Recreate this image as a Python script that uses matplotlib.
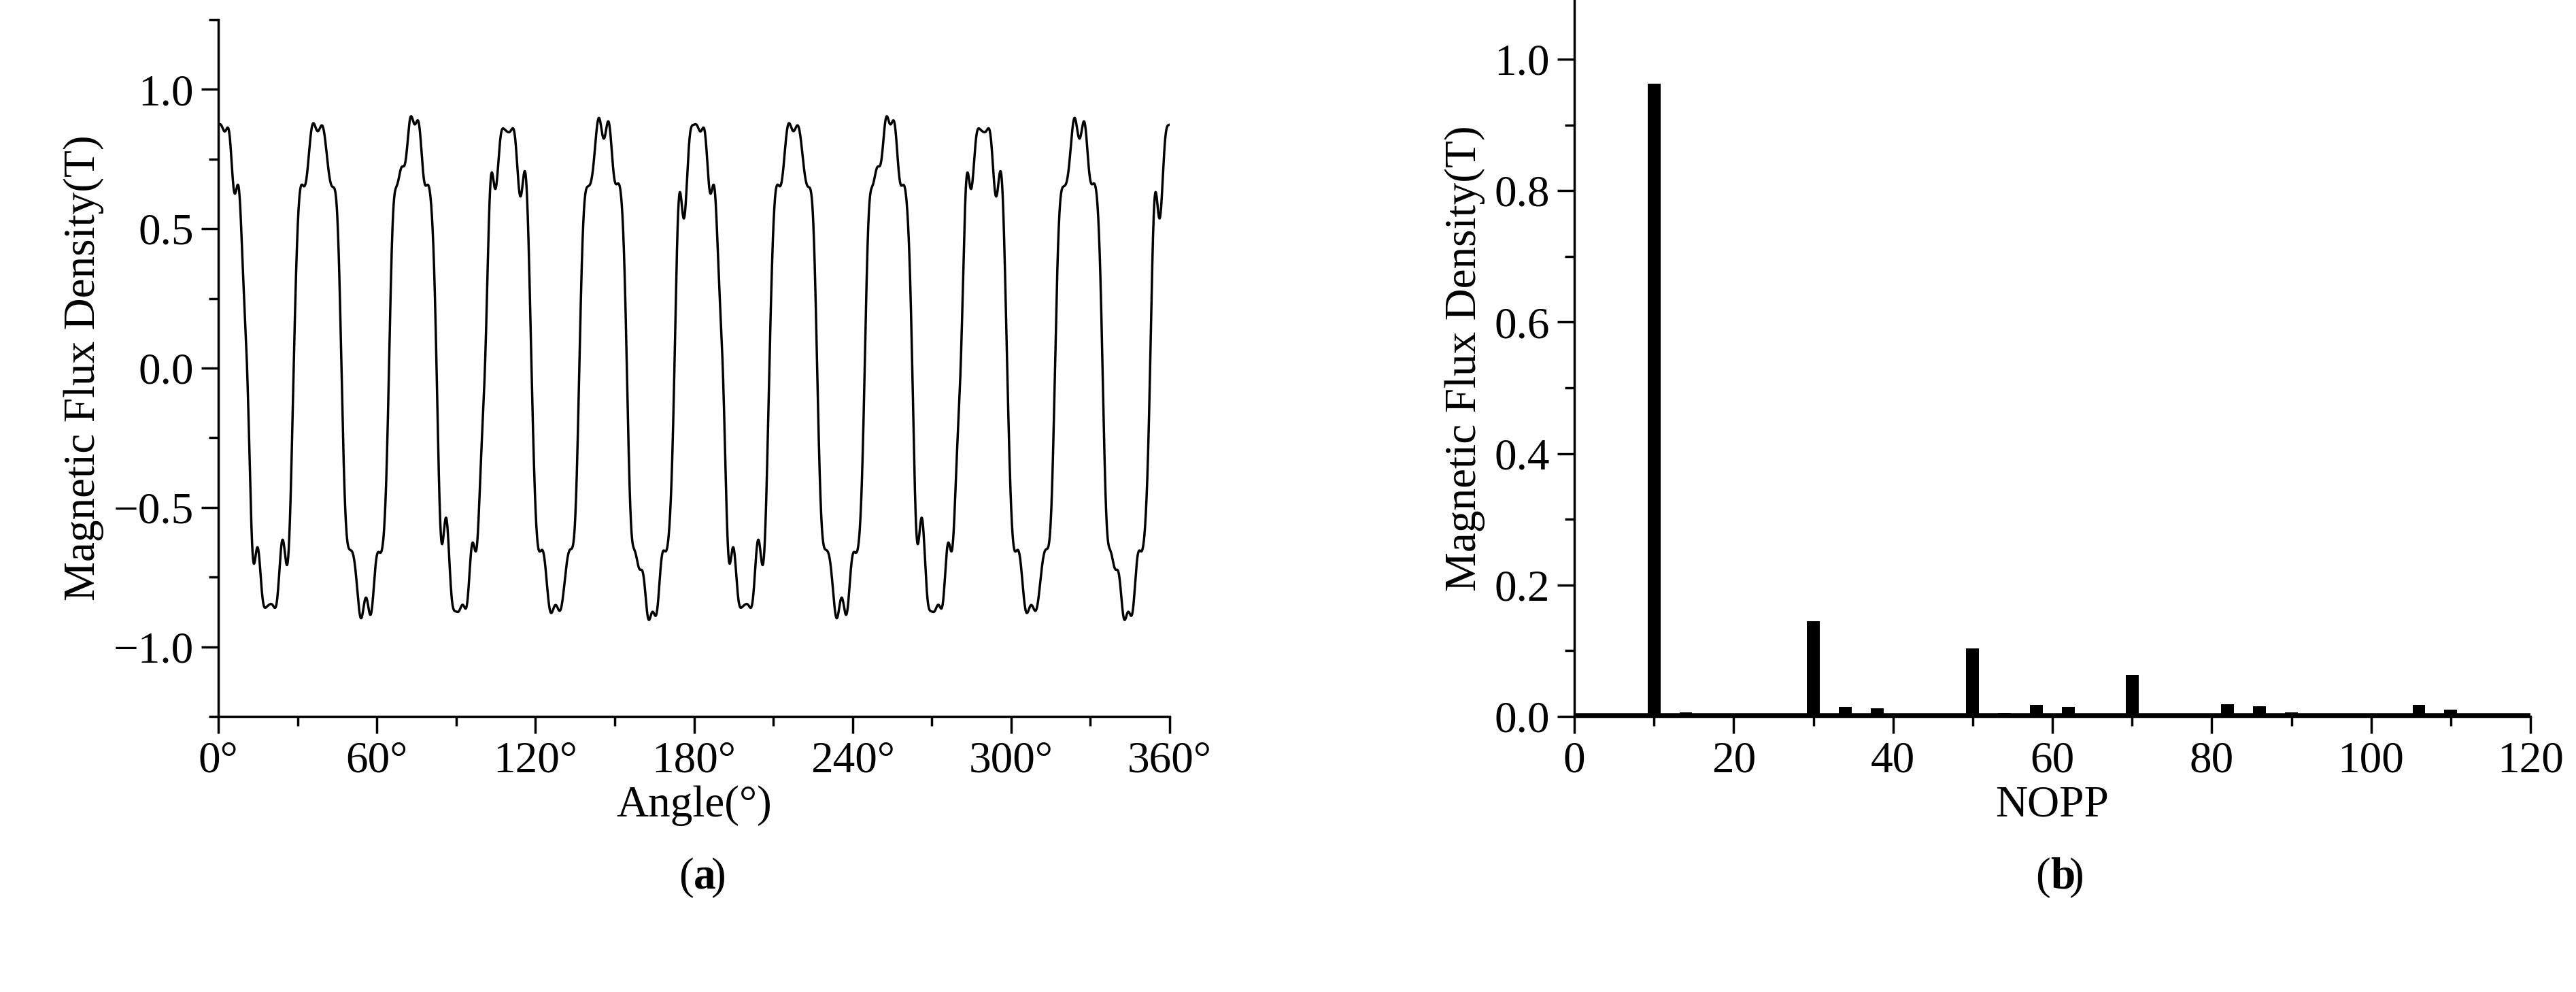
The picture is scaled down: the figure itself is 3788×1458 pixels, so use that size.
import numpy as np
import matplotlib
matplotlib.use("Agg")
import matplotlib.pyplot as plt
from matplotlib.ticker import MultipleLocator

plt.rcParams['font.family'] = ['Liberation Serif', 'DejaVu Serif']

# Harmonic spectrum (NOPP vs amplitude, T)
nopp = [2, 6, 10, 14, 18, 22, 26, 30, 34, 38, 42, 46, 50, 54, 58, 62, 66, 70,
        74, 78, 82, 86, 90, 94, 98, 102, 106, 110, 114, 118]
amp = [0.003, 0.003, 0.963, 0.006, 0.002, 0.003, 0.002, 0.145, 0.015, 0.012,
       0.002, 0.004, 0.103, 0.005, 0.018, 0.015, 0.003, 0.063,
       0.003, 0.004, 0.019, 0.016, 0.006, 0.004, 0.003, 0.004, 0.018, 0.010, 0.002, 0.002]
# phase (deg, electrical) used to rebuild the air-gap waveform
phase = [0, 0, 180, 0, 0, 0, 0, 180, 40, 80, 0, 0, 180, 0, 30, 60, 0, 180,
         0, 0, 20, 50, 0, 0, 0, 0, 10, 70, 0, 0]
zero_cross = 10.6  # angle (deg) of first falling zero crossing

angle = np.linspace(0, 360, 4000)
B = np.zeros_like(angle)
for n, a, p in zip(nopp, amp, phase):
    B += a * np.sin(np.radians(n * (angle - zero_cross) + p))

W, H = 3788, 1458
fig = plt.figure(figsize=(W / 100, H / 100), dpi=100)
FS = 47

def setup(ax):
    for s in ['top', 'right']:
        ax.spines[s].set_visible(False)
    for s in ['left', 'bottom']:
        ax.spines[s].set_linewidth(2.5)
    ax.tick_params(which='major', direction='out', length=18, width=2.5, labelsize=FS, pad=8)
    ax.tick_params(which='minor', direction='out', length=10, width=2.5)

ax1 = fig.add_axes([321 / W, 1 - 1053 / H, (1720 - 321) / W, (1053 - 29) / H])
setup(ax1)
ax1.plot(angle, B, color='black', lw=2.5)
ax1.set_xlim(0, 360)
ax1.set_ylim(-1.25, 1.25)
ax1.set_xticks([0, 60, 120, 180, 240, 300, 360])
ax1.set_xticklabels([f"{v}°" for v in [0, 60, 120, 180, 240, 300, 360]])
ax1.xaxis.set_minor_locator(MultipleLocator(30))
ax1.set_yticks([-1.0, -0.5, 0.0, 0.5, 1.0])
ax1.set_yticklabels(["\u22121.0", "\u22120.5", "0.0", "0.5", "1.0"])
ax1.yaxis.set_minor_locator(MultipleLocator(0.25))
ax1.set_xlabel("Angle(°)", fontsize=FS, labelpad=4)
ax1.set_ylabel("Magnetic Flux Density(T)", fontsize=FS, labelpad=10)

ax2 = fig.add_axes([2315 / W, 1 - 1053 / H, (3721 - 2315) / W, 1053 / H])
setup(ax2)
ax2.bar(nopp, amp, width=1.6, color='black')
ax2.axhline(0.002, color='black', lw=4)
ax2.set_xlim(0, 120)
ax2.set_ylim(0, 1.09)
ax2.set_xticks(range(0, 121, 20))
ax2.xaxis.set_minor_locator(MultipleLocator(10))
ax2.set_yticks([0.0, 0.2, 0.4, 0.6, 0.8, 1.0])
ax2.set_yticklabels(["0.0", "0.2", "0.4", "0.6", "0.8", "1.0"])
ax2.yaxis.set_minor_locator(MultipleLocator(0.1))
ax2.set_xlabel("NOPP", fontsize=FS, labelpad=4)
ax2.set_ylabel("Magnetic Flux Density(T)", fontsize=FS, labelpad=10)

y_cap = 1 - 1290 / H
fig.text(1020 / W, y_cap, "(", fontsize=FS, ha='right', va='center')
fig.text(1020 / W, y_cap, "a", fontsize=FS, fontweight='bold', ha='left', va='center')
fig.text(1046 / W, y_cap, ")", fontsize=FS, ha='left', va='center')
fig.text(3015 / W, y_cap, "(", fontsize=FS, ha='right', va='center')
fig.text(3015 / W, y_cap, "b", fontsize=FS, fontweight='bold', ha='left', va='center')
fig.text(3043 / W, y_cap, ")", fontsize=FS, ha='left', va='center')

fig.savefig("out.png", dpi=100)
